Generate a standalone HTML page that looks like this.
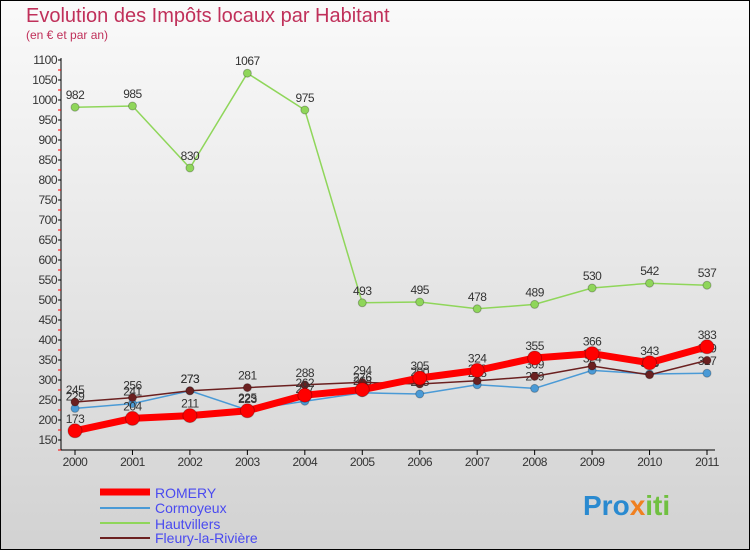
<!DOCTYPE html>
<html><head><meta charset="utf-8"><style>
body{margin:0;width:750px;height:550px;overflow:hidden;font-family:"Liberation Sans",sans-serif}
</style></head><body>
<svg width="750" height="550" xmlns="http://www.w3.org/2000/svg">
<defs><linearGradient id="bg" x1="0" y1="0" x2="0" y2="1"><stop offset="0" stop-color="#fafafa"/><stop offset="1" stop-color="#d2d2d2"/></linearGradient></defs>
<rect x="0.5" y="0.5" width="749" height="549" fill="url(#bg)" stroke="#000"/>
<text x="26" y="22" font-size="20" fill="#c0305a">Evolution des Impôts locaux par Habitant</text>
<text x="26" y="39" font-size="12" fill="#c0305a">(en € et par an)</text>
<g id="axes"></g><g id="series"></g>
<g font-size="14">
<line x1="100" y1="492" x2="150" y2="492" stroke="#f00" stroke-width="7"/><text x="155" y="498" fill="#4a4af0">ROMERY</text>
<line x1="100" y1="508" x2="150" y2="508" stroke="#4a9ad6" stroke-width="2"/><text x="155" y="513" fill="#4a4af0">Cormoyeux</text>
<line x1="100" y1="523" x2="150" y2="523" stroke="#8fd65a" stroke-width="2"/><text x="155" y="529" fill="#4a4af0">Hautvillers</text>
<line x1="100" y1="538" x2="150" y2="538" stroke="#6b2020" stroke-width="2"/><text x="155" y="543" fill="#4a4af0">Fleury-la-Rivière</text>
</g>
<text x="583" y="515" font-size="28" font-weight="bold" fill="#2a8ad0">Pro<tspan fill="#f08020">x</tspan><tspan fill="#70c040">iti</tspan></text>
</svg>
<script>
const years=[2000,2001,2002,2003,2004,2005,2006,2007,2008,2009,2010,2011];
const romery=[173,204,211,223,262,276,305,324,355,366,343,383];
const cormoyeux=[229,241,273,225,247,268,265,288,279,324,315,317];
const hautvillers=[982,985,830,1067,975,493,495,478,489,530,542,537];
const fleury=[245,256,273,281,288,294,290,298,309,335,313,349];
const yTicks=[150,200,250,300,350,400,450,500,550,600,650,700,750,800,850,900,950,1000,1050,1100];
const NS="http://www.w3.org/2000/svg";
const X=i=>75+i*(707-75)/11;
const Y=v=>440-(v-150)*0.4;
function mk(t,a,p){const e=document.createElementNS(NS,t);for(const k in a)e.setAttribute(k,a[k]);p.appendChild(e);return e;}
const ax=document.getElementById('axes');
const yl=mk('line',{x1:61,y1:58,x2:61,y2:450,stroke:'#000'},ax);


const xl=mk('line',{x1:61,y1:450,x2:715,y2:450,stroke:'#000'},ax);


yTicks.forEach(v=>{
 mk('line',{x1:58,y1:Y(v),x2:61,y2:Y(v),stroke:'#000'},ax);
 mk('line',{x1:58,y1:Y(v)+10,x2:61,y2:Y(v)+10,stroke:'#f00'},ax);
 const t=mk('text',{x:57,y:Y(v)+4,'text-anchor':'end','font-size':12,fill:'#333','letter-spacing':'-0.5'},ax);
 t.textContent=v;
 
 
});
years.forEach((y,i)=>{
 mk('line',{x1:X(i),y1:450,x2:X(i),y2:455,stroke:'#000'},ax);
 const t=mk('text',{x:X(i),y:466,'text-anchor':'middle','font-size':12,fill:'#333','letter-spacing':'-0.5'},ax);
 t.textContent=y;
 
 
});
const sg=document.getElementById('series');
function series(vals,color,w,r,name){
 const g=mk('g',{},sg);
 
 
 mk('polyline',{points:vals.map((v,i)=>X(i)+','+Y(v)).join(' '),fill:'none',stroke:color,'stroke-width':w},g);
 vals.forEach((v,i)=>{
  const c=mk('circle',{cx:X(i),cy:Y(v),r:r,fill:color,stroke:'rgba(0,0,0,0.25)'},g);
  
  
  const t=mk('text',{x:X(i),y:Y(v)-8,'text-anchor':'middle','font-size':12,fill:'#333','letter-spacing':'-0.5'},g);
  t.textContent=v;
  
  
 });
}
series(hautvillers,'#8fd65a',1.5,4,'hautvillers-line');
series(cormoyeux,'#4a9ad6',1.5,4,'cormoyeux-line');
series(fleury,'#6b2020',1.5,4,'fleury-line');
series(romery,'#f00',7,7,'romery-line');
</script>
</body></html>
